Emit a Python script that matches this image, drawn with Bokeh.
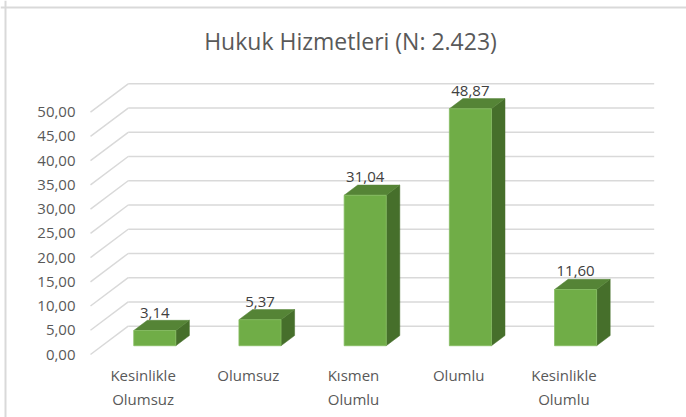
from bokeh.plotting import figure
from bokeh.models import Range1d, Span
from bokeh.core.properties import value
from bokeh.embed import file_html
from bokeh.resources import INLINE

# ---------------- data ----------------
title_text = "Hukuk Hizmetleri (N: 2.423)"
categories = ["Kesinlikle\nOlumsuz", "Olumsuz", "Kısmen\nOlumlu", "Olumlu", "Kesinlikle\nOlumlu"]
values = [3.14, 5.37, 31.04, 48.87, 11.60]
value_labels = ["3,14", "5,37", "31,04", "48,87", "11,60"]
ticks = [0, 5, 10, 15, 20, 25, 30, 35, 40, 45, 50]
tick_labels = ["0,00", "5,00", "10,00", "15,00", "20,00", "25,00",
               "30,00", "35,00", "40,00", "45,00", "50,00"]

# ---------------- layout / style ----------------
W, H = 686, 417
PX_CAT = 105.2          # pixels per category
PX_VAL = 4.848          # pixels per value unit
FLOOR_LEFT_PX = 90      # front-left corner of floor, from frame left
ZERO_PX = 354           # front zero line, from frame top
DX = 37.7 / PX_CAT      # depth offset in category units
DY = 28.3 / PX_VAL      # depth offset in value units
BAR_W = 0.40
FRONT, BACK = 0.31, 0.67

FONT = value("Open Sans")
GRID = "#D9D9D9"
TXT = "#595959"
C_FRONT, C_TOP, C_SIDE = "#70AD47", "#558436", "#466F2B"

x_start = -0.5 - FLOOR_LEFT_PX / PX_CAT
x_end = x_start + W / PX_CAT
y_end = ZERO_PX / PX_VAL
y_start = y_end - H / PX_VAL

p = figure(width=W, height=H, output_backend="svg", toolbar_location=None,
           x_range=Range1d(x_start, x_end), y_range=Range1d(y_start, y_end),
           x_axis_type=None, y_axis_type=None,
           min_border=0, min_border_left=0, min_border_right=0,
           min_border_top=0, min_border_bottom=0)
p.grid.visible = False
p.outline_line_color = None
p.background_fill_color = "white"
p.border_fill_color = "white"

n = len(categories)

# chart border (top & left)
p.add_layout(Span(location=y_end - 7 / PX_VAL, dimension="width", line_color=GRID, line_width=2))
p.add_layout(Span(location=x_start + 5 / PX_CAT, dimension="height", line_color=GRID, line_width=2))

# back wall gridlines
p.segment(x0=[-0.5 + DX] * len(ticks), x1=[n - 0.5 + DX] * len(ticks),
          y0=[t + DY for t in ticks], y1=[t + DY for t in ticks],
          line_color=GRID, line_width=1.5)
# side wall gridlines
p.segment(x0=[-0.5] * len(ticks), x1=[-0.5 + DX] * len(ticks),
          y0=ticks, y1=[t + DY for t in ticks],
          line_color=GRID, line_width=1.5)

# bars
fx, fy, tx, ty, sx, sy = [], [], [], [], [], []
for i, v in enumerate(values):
    L = i + FRONT * DX - BAR_W / 2
    R = i + FRONT * DX + BAR_W / 2
    b0 = FRONT * DY
    ddx = (BACK - FRONT) * DX
    ddy = (BACK - FRONT) * DY
    fx.append([L, R, R, L]); fy.append([b0, b0, b0 + v, b0 + v])
    tx.append([L, R, R + ddx, L + ddx]); ty.append([b0 + v, b0 + v, b0 + v + ddy, b0 + v + ddy])
    sx.append([R, R + ddx, R + ddx, R]); sy.append([b0, b0 + ddy, b0 + v + ddy, b0 + v])

p.patches(xs=sx, ys=sy, fill_color=C_SIDE, line_color=C_SIDE, line_width=0.5)
p.patches(xs=tx, ys=ty, fill_color=C_TOP, line_color=C_TOP, line_width=0.5)
p.patches(xs=fx, ys=fy, fill_color=C_FRONT, line_color="#86BE62", line_width=0.8)

# value labels
p.text(x=[i + FRONT * DX for i in range(n)],
       y=[FRONT * DY + v + 18 / PX_VAL for v in values],
       text=value_labels, text_font=FONT, text_font_size="15px",
       text_color="#404040", text_align="center", text_baseline="middle")

# y tick labels
p.text(x=[-0.5 - 15 / PX_CAT] * len(ticks), y=ticks, text=tick_labels,
       text_font=FONT, text_font_size="15px", text_color=TXT,
       text_align="right", text_baseline="middle")

# category labels
p.text(x=list(range(n)), y=[-10 / PX_VAL] * n, text=categories,
       text_font=FONT, text_font_size="15px", text_color=TXT,
       text_align="center", text_baseline="top", text_line_height=1.2)

# title
p.text(x=[x_start + 350 / PX_CAT], y=[(ZERO_PX - 40) / PX_VAL], text=[title_text],
       text_font=FONT, text_font_size="23px", text_color=TXT,
       text_align="center", text_baseline="middle")

open("out.html", "w").write(file_html(p, INLINE))
